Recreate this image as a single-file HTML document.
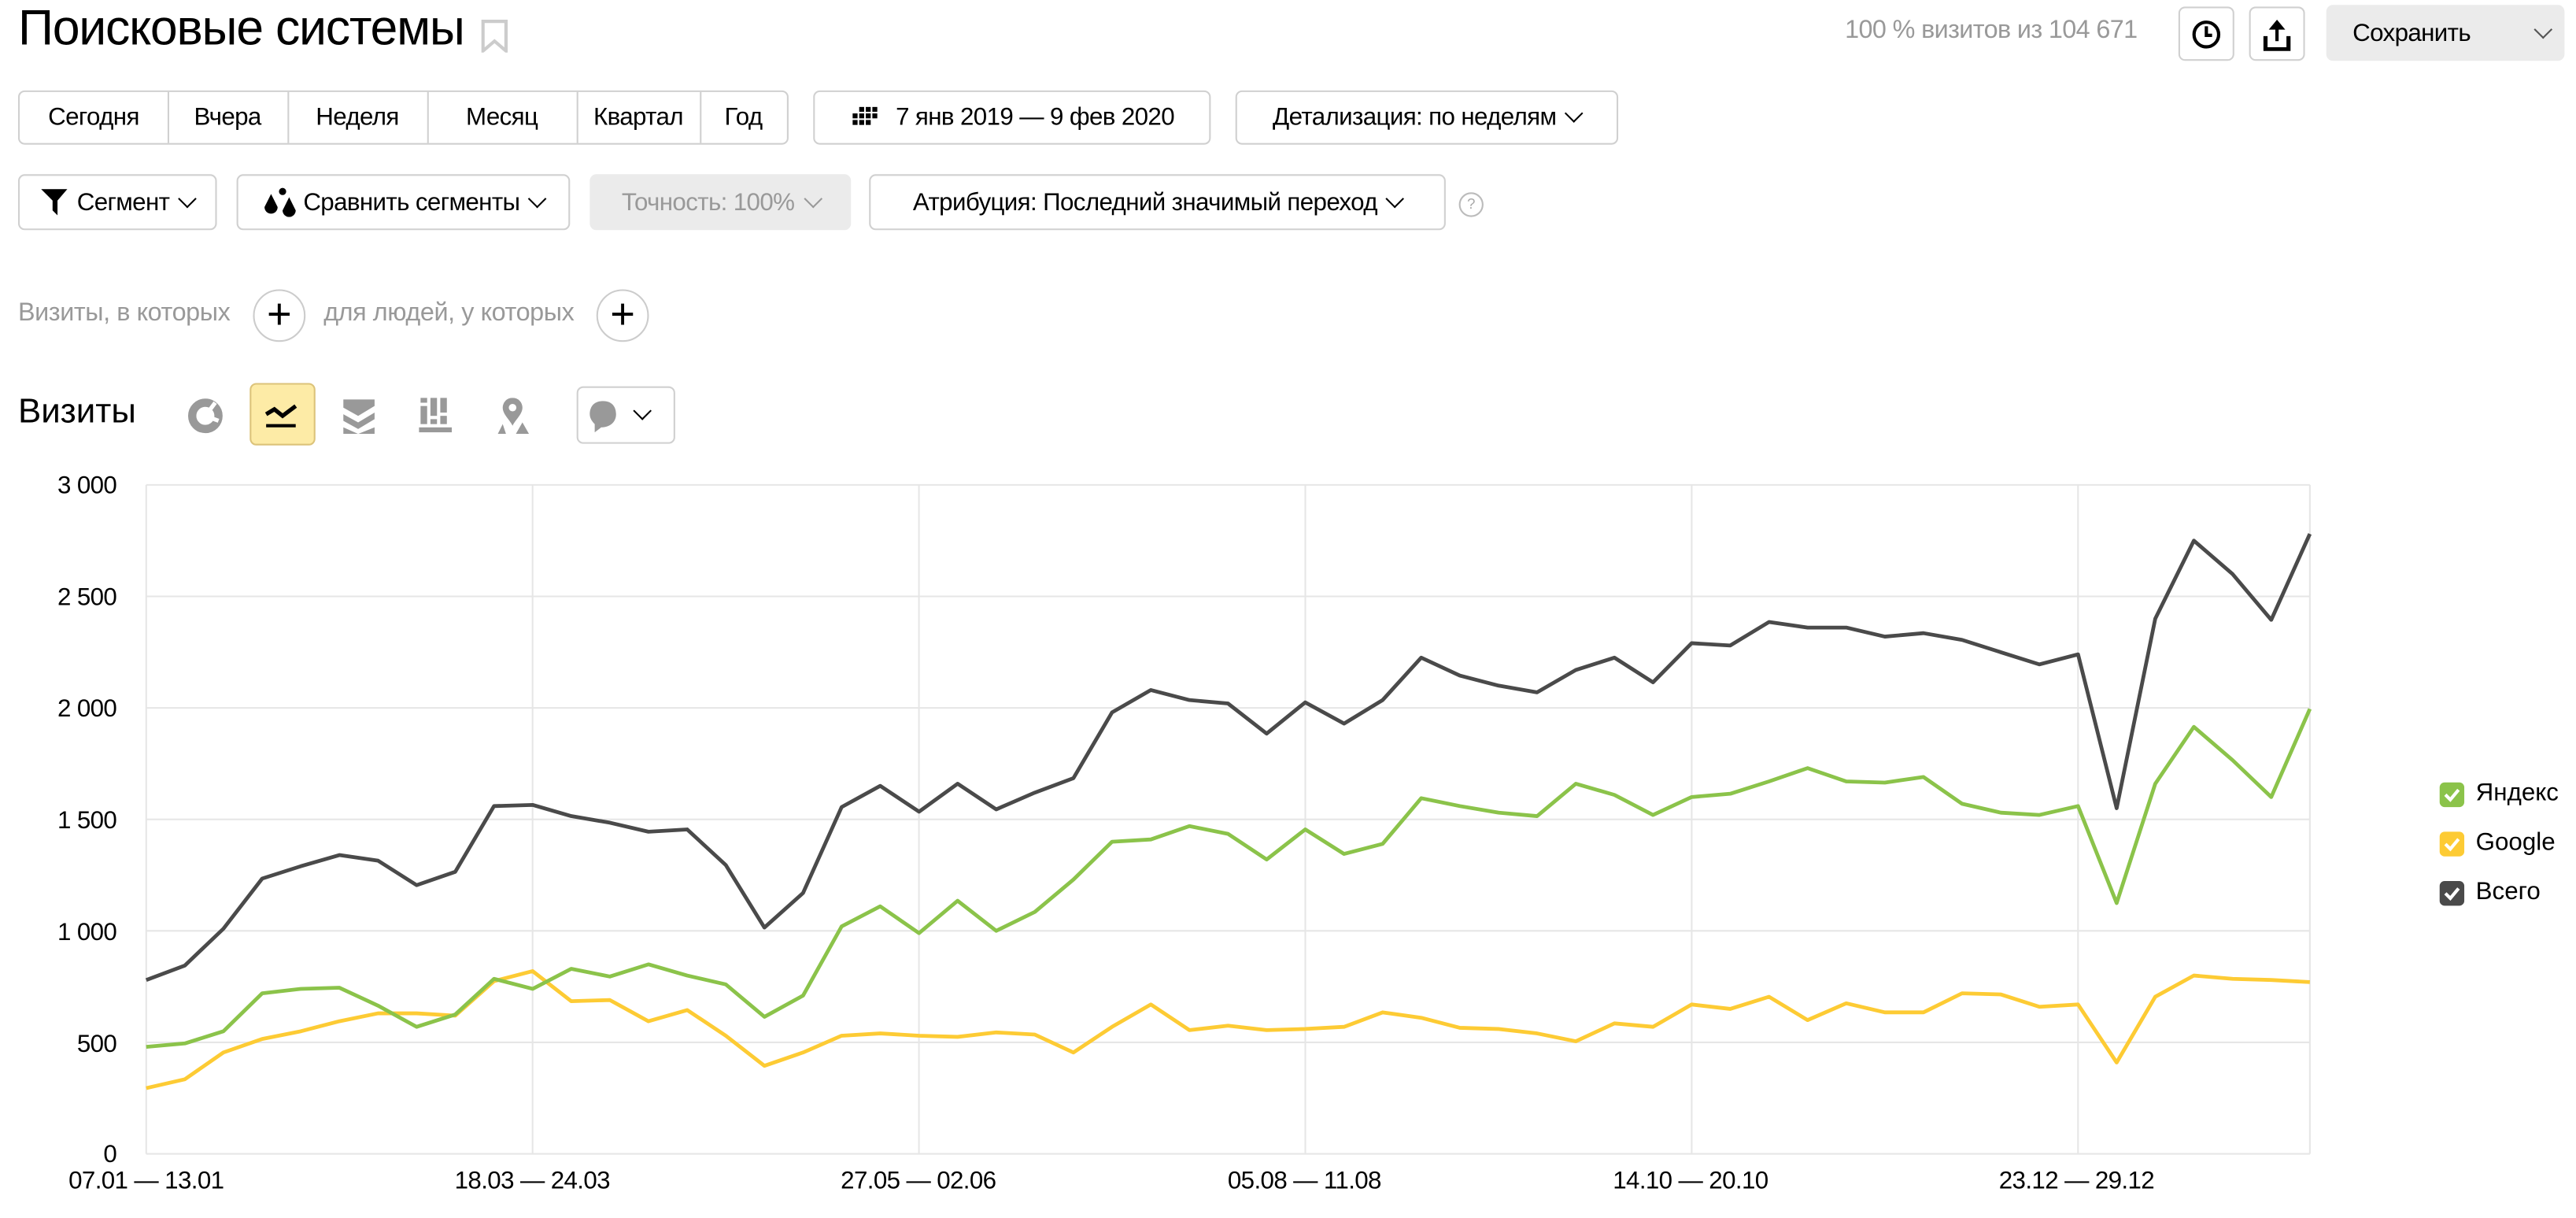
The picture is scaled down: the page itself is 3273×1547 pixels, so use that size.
<!DOCTYPE html>
<html><head><meta charset="utf-8">
<style>
html,body{margin:0;padding:0;background:#fff;overflow:hidden}
#root{position:absolute;left:0;top:0;width:1568px;height:741px;transform:scale(2.08737,2.08772);transform-origin:0 0;font-family:"Liberation Sans","DejaVu Sans",sans-serif;color:#000}
.a{position:absolute;white-space:nowrap}
.btn{position:absolute;border:1px solid #d0d0d0;border-radius:4px;box-sizing:border-box;background:#fff;font-size:15px;display:flex;align-items:center;justify-content:center;white-space:nowrap;letter-spacing:-0.3px}
.seg{position:absolute;top:0;bottom:0;display:flex;align-items:center;justify-content:center;border-right:1px solid #d0d0d0}
.gray{color:#999}
.chev{display:inline-block;width:7px;height:7px;border-right:1.5px solid #000;border-bottom:1.5px solid #000;transform:rotate(45deg);margin-left:7px;margin-top:-5px}
.circ{position:absolute;width:32px;height:32px;border:1px solid #ccc;border-radius:50%;box-sizing:border-box;font-size:26px;line-height:28px;text-align:center}
.yl{position:absolute;font-size:15px;text-align:right;width:60px;left:11px;letter-spacing:-0.3px}
.xl{position:absolute;font-size:15px;width:120px;text-align:center;top:710px;letter-spacing:-0.3px}
.cb{position:absolute;width:15px;height:15px;border-radius:3px;left:1485px}
.lt{position:absolute;left:1507px;font-size:15px}
</style></head><body><div id="root">
<div class="a" style="left:11px;top:1px;font-size:30px;letter-spacing:-0.6px">Поисковые системы</div>
<svg class="a" style="left:293px;top:12px" width="16" height="20"><path d="M1,1 H15 V19 L8,13 L1,19 Z" fill="none" stroke="#ccc" stroke-width="2"/></svg>
<div class="a gray" style="left:1123px;top:10px;font-size:15.5px;letter-spacing:-0.3px">100 % визитов из 104 671</div>
<div class="btn" style="left:1326px;top:4px;width:34px;height:33px"><svg width="18" height="18"><circle cx="9" cy="9" r="7.5" fill="none" stroke="#000" stroke-width="2"/><path d="M9,4 V9.5 H12.5" fill="none" stroke="#000" stroke-width="2"/></svg></div>
<div class="btn" style="left:1369px;top:4px;width:34px;height:33px"><svg width="18" height="20"><path d="M9,1 L4,7 H8 V14 H10 V7 H14 Z" fill="#000"/><path d="M2,11 V19 H16 V11" fill="none" stroke="#000" stroke-width="2.5"/></svg></div>
<div class="btn" style="left:1416px;top:3px;width:145px;height:34px;background:#ebebeb;border-color:#ebebeb;justify-content:flex-start;padding-left:15px">Сохранить<span class="chev" style="margin-left:40px;border-color:#555"></span></div>

<div class="btn" style="left:11px;top:55px;width:469px;height:33px">
<div class="seg" style="left:0;width:90px">Сегодня</div>
<div class="seg" style="left:90px;width:73px">Вчера</div>
<div class="seg" style="left:163px;width:85px">Неделя</div>
<div class="seg" style="left:248px;width:91px">Месяц</div>
<div class="seg" style="left:339px;width:75px">Квартал</div>
<div class="seg" style="left:414px;width:53px;border:none">Год</div>
</div>
<div class="btn" style="left:495px;top:55px;width:242px;height:33px"><svg width="18" height="14" style="margin-right:10px"><g fill="#000"><rect x="6" y="0" width="3" height="3"/><rect x="10" y="0" width="3" height="3"/><rect x="14" y="0" width="3" height="3"/><rect x="2" y="4" width="3" height="3"/><rect x="6" y="4" width="3" height="3"/><rect x="10" y="4" width="3" height="3"/><rect x="14" y="4" width="3" height="3"/><rect x="2" y="8" width="3" height="3"/><rect x="6" y="8" width="3" height="3"/><rect x="10" y="8" width="3" height="3"/></g></svg>7 янв 2019 — 9 фев 2020</div>
<div class="btn" style="left:752px;top:55px;width:233px;height:33px">Детализация: по неделям<span class="chev"></span></div>

<div class="btn" style="left:11px;top:106px;width:121px;height:34px"><svg width="18" height="16" style="margin-right:4px"><path d="M0,0 H16 L10,7 V16 L7,13 V7 Z" fill="#000"/></svg>Сегмент<span class="chev"></span></div>
<div class="btn" style="left:144px;top:106px;width:203px;height:34px"><svg width="22" height="18" style="margin-right:3px"><path d="M5,4 L9,12 A4,4 0 1 1 1,12 Z" fill="#000"/><path d="M16,6 L20,14 A4,4 0 1 1 12,14 Z" fill="#000"/><circle cx="12" cy="2.5" r="2.2" fill="#000"/></svg>Сравнить сегменты<span class="chev"></span></div>
<div class="btn" style="left:359px;top:106px;width:159px;height:34px;background:#ebebeb;border-color:#ebebeb;color:#999">Точность: 100%<span class="chev" style="border-color:#999"></span></div>
<div class="btn" style="left:529px;top:106px;width:351px;height:34px">Атрибуция: Последний значимый переход<span class="chev"></span></div>
<div class="a" style="left:888px;top:117px;width:13px;height:13px;border:1px solid #bbb;border-radius:50%;font-size:9px;color:#aaa;text-align:center;line-height:13px">?</div>

<div class="a gray" style="left:11px;top:182px;font-size:15.5px;letter-spacing:-0.2px">Визиты, в которых</div>
<div class="circ" style="left:154px;top:176px">+</div>
<div class="a gray" style="left:197px;top:182px;font-size:15.5px;letter-spacing:-0.2px">для людей, у которых</div>
<div class="circ" style="left:363px;top:176px">+</div>

<div class="a" style="left:11px;top:239px;font-size:21px">Визиты</div>
<svg class="a" style="left:114px;top:242px" width="22" height="22"><circle cx="11" cy="11" r="8" fill="none" stroke="#999" stroke-width="5"/><path d="M11,11 L17,3 M11,11 L19,14" stroke="#fff" stroke-width="2.5"/></svg>
<div class="a" style="left:152px;top:233px;width:40px;height:38px;background:#fdeba6;border:1px solid #dcc37a;border-radius:4px;box-sizing:border-box"></div>
<svg class="a" style="left:160px;top:243px" width="24" height="20"><path d="M2,9 L7,6 L12,10 L20,4" fill="none" stroke="#000" stroke-width="2.5"/><path d="M2,16 H20" stroke="#000" stroke-width="2"/></svg>
<svg class="a" style="left:208px;top:242px" width="22" height="22"><path d="M1,1 H20 V5 L10,11 L1,6 Z M1,10 L10,15 L20,9 V13 L10,19 L1,14 Z M1,18 L10,22 L20,18 V22 H1Z" fill="#999"/></svg>
<svg class="a" style="left:255px;top:242px" width="22" height="22"><g fill="#999"><rect x="1" y="0" width="4" height="3"/><rect x="1" y="5" width="4" height="11"/><rect x="7" y="0" width="4" height="11"/><rect x="7" y="13" width="4" height="3"/><rect x="13" y="0" width="4" height="9"/><rect x="13" y="11" width="4" height="5"/><rect x="0" y="18" width="20" height="3"/></g></svg>
<svg class="a" style="left:302px;top:242px" width="22" height="22"><path d="M10,0 A6,6 0 0 1 16,6 C16,10 12,13 10,17 C8,13 4,10 4,6 A6,6 0 0 1 10,0 Z" fill="#999"/><circle cx="10" cy="6" r="2.3" fill="#fff"/><path d="M1,22 L4,16 L6,22 Z M12,22 L16,15 L20,22 Z" fill="#999"/></svg>
<div class="btn" style="left:351px;top:235px;width:60px;height:35px;justify-content:flex-start;padding-left:5px"><svg width="20" height="22"><path d="M10,2 C16,2 18,6 18,10 C18,15 14,18 9,18 L5,21 L5,16 C3,14 2,12 2,10 C2,6 4,2 10,2 Z" fill="#999"/></svg><span class="chev" style="margin-left:10px"></span></div>

<div class="yl" style="top:287px">3 000</div>
<div class="yl" style="top:355px">2 500</div>
<div class="yl" style="top:423px">2 000</div>
<div class="yl" style="top:491px">1 500</div>
<div class="yl" style="top:559px">1 000</div>
<div class="yl" style="top:627px">500</div>
<div class="yl" style="top:694px">0</div>
<div class="xl" style="left:29px">07.01 — 13.01</div>
<div class="xl" style="left:264px">18.03 — 24.03</div>
<div class="xl" style="left:499px">27.05 — 02.06</div>
<div class="xl" style="left:734px">05.08 — 11.08</div>
<div class="xl" style="left:969px">14.10 — 20.10</div>
<div class="xl" style="left:1204px">23.12 — 29.12</div>

<svg id="ch" class="a" style="left:0;top:0" width="1568" height="741"></svg>

<div class="cb" style="top:476px;background:#8bc34a"></div><div class="lt" style="top:474px">Яндекс</div>
<div class="cb" style="top:506px;background:#fdcb34"></div><div class="lt" style="top:504px">Google</div>
<div class="cb" style="top:536px;background:#4a4a4a"></div><div class="lt" style="top:534px">Всего</div>
<svg class="a" style="left:1485px;top:476px" width="15" height="80"><g fill="none" stroke="#fff" stroke-width="2"><path d="M3.5,7.5 L6.5,10.5 L11.5,4.5"/><path d="M3.5,37.5 L6.5,40.5 L11.5,34.5"/><path d="M3.5,67.5 L6.5,70.5 L11.5,64.5"/></g></svg>
</div>
<script>
var T=[780,845,1010,1235,1290,1340,1315,1205,1265,1560,1565,1515,1485,1445,1455,1295,1015,1170,1555,1650,1535,1660,1545,1620,1685,1980,2080,2035,2020,1885,2025,1930,2035,2225,2145,2100,2070,2170,2225,2115,2290,2280,2385,2360,2360,2320,2335,2305,2250,2195,2240,1550,2400,2750,2600,2395,2780];
var Y=[480,495,550,720,740,745,665,570,625,785,740,830,795,850,800,760,615,710,1020,1110,990,1135,1000,1085,1230,1400,1410,1470,1435,1320,1455,1345,1390,1595,1560,1530,1515,1660,1610,1520,1600,1615,1670,1730,1670,1665,1690,1570,1530,1520,1560,1125,1660,1915,1765,1600,1995];
var G=[295,335,455,515,550,595,630,630,620,775,820,685,690,595,645,530,395,455,530,540,530,525,545,535,455,570,670,555,575,555,560,570,635,610,565,560,540,505,585,570,670,650,705,600,675,635,635,720,715,660,670,410,705,800,785,780,770];
var L=89,R=1406,TOP=295,B=702;
function x(i){return L+i*(R-L)/56}function y(v){return B-v*(B-TOP)/3000}
var s='';
for(var k=0;k<=6;k++){var yy=y(k*500);s+='<line x1="'+L+'" x2="'+R+'" y1="'+yy+'" y2="'+yy+'" stroke="#e6e6e6" stroke-width="1"/>';}
for(var j=0;j<6;j++){var xx=x(j*10);s+='<line x1="'+xx+'" x2="'+xx+'" y1="'+TOP+'" y2="'+B+'" stroke="#e6e6e6" stroke-width="1"/>';}
s+='<line x1="'+R+'" x2="'+R+'" y1="'+TOP+'" y2="'+B+'" stroke="#e6e6e6"/>';
function pl(a,c){var p=a.map(function(v,i){return x(i).toFixed(1)+','+y(v).toFixed(1)}).join(' ');return '<polyline points="'+p+'" fill="none" stroke="'+c+'" stroke-width="2.3" stroke-linejoin="round"/>';}
s+=pl(G,'#fdcb34')+pl(Y,'#8bc34a')+pl(T,'#4a4a4a');
document.getElementById('ch').innerHTML=s;
</script>
</body></html>
